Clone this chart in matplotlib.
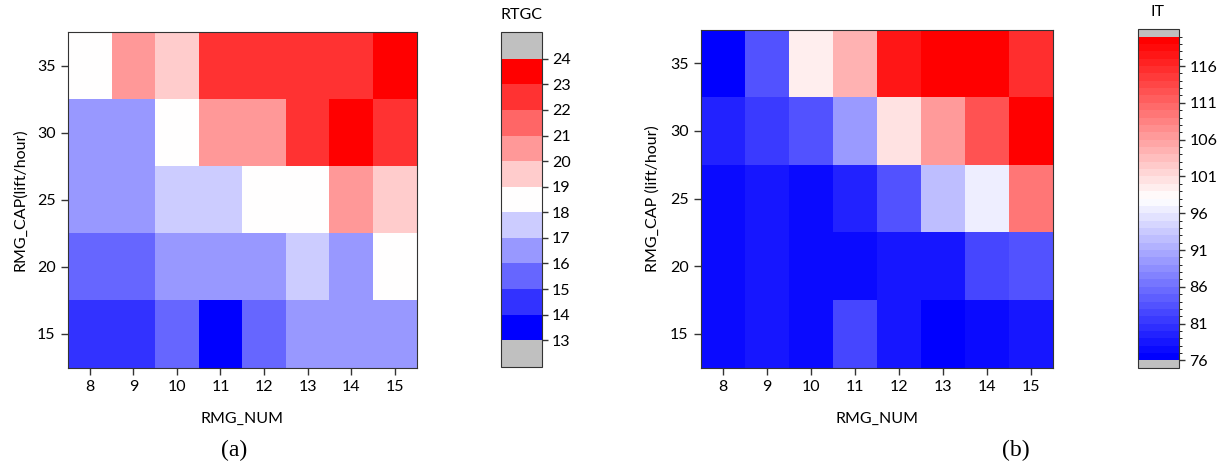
import numpy as np
import matplotlib
matplotlib.use("Agg")
import matplotlib.pyplot as plt
from matplotlib.colors import BoundaryNorm, ListedColormap

plt.rcParams['font.family'] = ['Lato', 'DejaVu Sans']
plt.rcParams['font.size'] = 11

rmg_num = [8, 9, 10, 11, 12, 13, 14, 15]
rmg_cap = [15, 20, 25, 30, 35]

# RTGC, rows from cap=15 up to cap=35
rtgc = [
    [14, 14, 15, 13, 15, 16, 16, 16],
    [15, 15, 16, 16, 16, 17, 16, 18],
    [16, 16, 17, 17, 18, 18, 20, 19],
    [16, 16, 18, 20, 20, 22, 23, 22],
    [18, 20, 19, 22, 22, 22, 22, 23],
]

# IT, rows from cap=15 up to cap=35
it = [
    [77.3, 78.2, 77.3, 82.5, 78.2, 76.2, 77.3, 78.6],
    [77.3, 78.2, 77.3, 77.7, 78.6, 78.2, 82.5, 83.3],
    [77.3, 78.2, 77.3, 79.0, 83.3, 92.4, 96.5, 109.0],
    [79.0, 81.2, 83.3, 89.2, 100.6, 106.8, 112.7, 119.5],
    [76.9, 83.3, 99.5, 104.6, 117.4, 119.8, 119.6, 115.6],
]

rtgc_ticks = list(range(13, 25))
it_ticks = [76, 81, 86, 91, 96, 101, 106, 111, 116]

W, H = 1218, 467
fig = plt.figure(figsize=(W / 100, H / 100), dpi=100)
FS = 11.5


def box(x0, y0, x1, y1):
    return [x0 / W, 1 - y1 / H, (x1 - x0) / W, (y1 - y0) / H]


def heat(ax, data, cmap, norm, ylabel):
    x = np.array(rmg_num, dtype=float)
    y = np.array(rmg_cap, dtype=float)
    xe = np.append(x - 0.5, x[-1] + 0.5)
    ye = np.append(y - 2.5, y[-1] + 2.5)
    ax.pcolormesh(xe, ye, np.array(data), cmap=cmap, norm=norm)
    ax.set_xticks(rmg_num)
    ax.set_yticks(rmg_cap)
    ax.set_xlim(xe[0], xe[-1])
    ax.set_ylim(ye[0], ye[-1])
    ax.tick_params(length=5, width=1, color='#333333', labelsize=FS, pad=4)
    for s in ax.spines.values():
        s.set_color('#333333')
    ax.set_xlabel('RMG_NUM', fontsize=FS, labelpad=13)
    ax.set_ylabel(ylabel, fontsize=FS, labelpad=7)


# left: discrete RTGC levels
bwr = plt.get_cmap('bwr')
n1 = len(rtgc_ticks) - 1
cmap1 = ListedColormap([bwr(i / (n1 - 1)) for i in range(n1)])
cmap1.set_over('#c0c0c0')
cmap1.set_under('#c0c0c0')
norm1 = BoundaryNorm(rtgc_ticks, n1)

ax1 = fig.add_axes(box(68, 32, 416.5, 367.5))
heat(ax1, rtgc, cmap1, norm1, 'RMG_CAP(lift/hour)')

cax1 = fig.add_axes(box(500.5, 32, 541.5, 367))
cb1 = fig.colorbar(plt.cm.ScalarMappable(norm=norm1, cmap=cmap1), cax=cax1,
                   extend='both', extendrect=True, extendfrac=0.095,
                   ticks=rtgc_ticks)
cb1.outline.set_edgecolor('#333333')
cax1.tick_params(length=4, width=1, color='#333333', labelsize=FS)
fig.text(521, H - 15, 'RTGC', transform=None, ha='center', va='center', fontsize=FS)

# right: fine IT levels
bounds2 = np.arange(76, 121, 1)
n2 = len(bounds2) - 1
cmap2 = ListedColormap([bwr(i / (n2 - 1)) for i in range(n2)])
cmap2.set_over('#c0c0c0')
cmap2.set_under('#c0c0c0')
norm2 = BoundaryNorm(bounds2, n2)

ax2 = fig.add_axes(box(701, 29.5, 1052.5, 367.5))
heat(ax2, it, cmap2, norm2, 'RMG_CAP (lift/hour)')

cax2 = fig.add_axes(box(1137.5, 29.5, 1179, 367.5))
cb2 = fig.colorbar(plt.cm.ScalarMappable(norm=norm2, cmap=cmap2), cax=cax2,
                   extend='both', extendrect=True, extendfrac=0.022,
                   ticks=it_ticks)
cb2.outline.set_edgecolor('#333333')
cax2.tick_params(length=4, width=1, color='#333333', labelsize=FS)
fig.text(1158, H - 12, 'IT', transform=None, ha='center', va='center', fontsize=FS)

fig.text(234, H - 450, '(a)', transform=None, ha='center', va='center',
         fontsize=17, family='Liberation Serif')
fig.text(1016, H - 450, '(b)', transform=None, ha='center', va='center',
         fontsize=17, family='Liberation Serif')

fig.savefig('out.png', dpi=100)
